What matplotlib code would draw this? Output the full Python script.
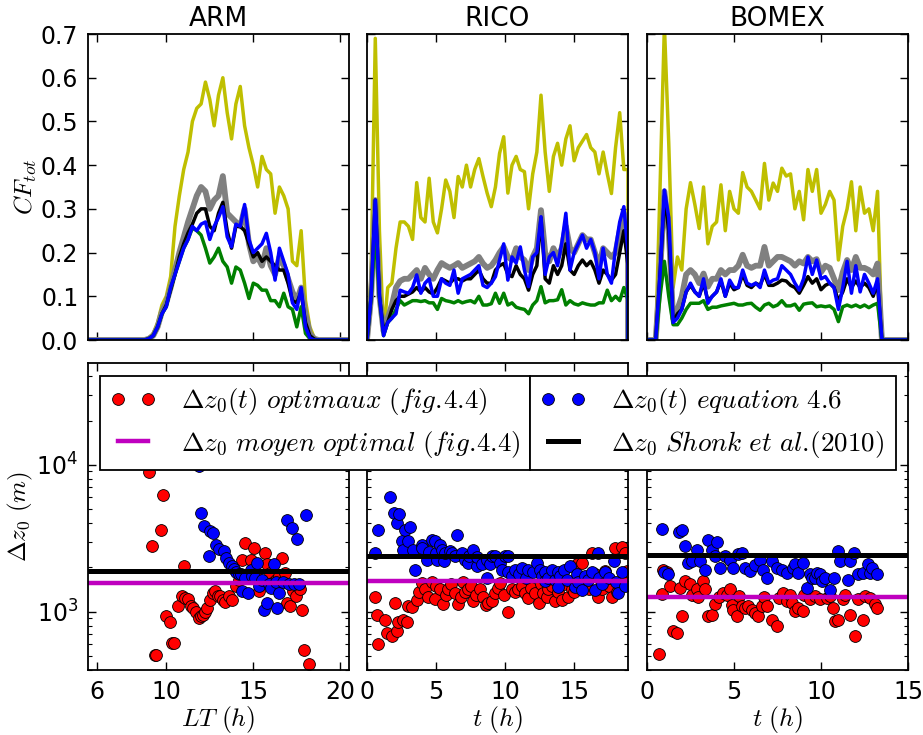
import matplotlib
matplotlib.use("Agg")
import matplotlib.pyplot as plt
import numpy as np

plt.rcParams["mathtext.fontset"] = "cm"
plt.rcParams["font.family"] = "DejaVu Sans"

# ---------------- top row: total cloud fraction ----------------
ARM_T = np.arange(8.5, 18.76, 0.25)
ARM_YELLOW = [0, 0, 0.005, 0.015, 0.04, 0.08, 0.10, 0.145, 0.26, 0.33,
              0.39, 0.43, 0.50, 0.53, 0.54, 0.59, 0.55, 0.49, 0.56, 0.60,
              0.52, 0.46, 0.54, 0.58, 0.49, 0.44, 0.40, 0.35, 0.42, 0.39,
              0.38, 0.29, 0.35, 0.33, 0.30, 0.18, 0.17, 0.25, 0.09, 0.03,
              0.005, 0]
ARM_GRAY = [0, 0, 0.003, 0.01, 0.03, 0.065, 0.085, 0.12, 0.16, 0.20,
            0.235, 0.27, 0.30, 0.33, 0.35, 0.34, 0.30, 0.32, 0.33, 0.375,
            0.29, 0.28, 0.27, 0.26, 0.30, 0.22, 0.18, 0.19, 0.17, 0.21,
            0.17, 0.15, 0.19, 0.17, 0.14, 0.11, 0.09, 0.12, 0.06, 0.015,
            0.003, 0]
ARM_BLACK = [0, 0, 0.003, 0.01, 0.03, 0.06, 0.08, 0.115, 0.15, 0.19,
             0.22, 0.245, 0.265, 0.29, 0.30, 0.30, 0.26, 0.25, 0.29, 0.315,
             0.25, 0.21, 0.26, 0.26, 0.25, 0.22, 0.19, 0.20, 0.18, 0.19,
             0.18, 0.17, 0.16, 0.16, 0.13, 0.09, 0.085, 0.11, 0.04, 0.01,
             0.002, 0]
ARM_BLUE = [0, 0, 0.003, 0.01, 0.03, 0.06, 0.076, 0.12, 0.15, 0.18,
            0.21, 0.23, 0.26, 0.25, 0.265, 0.27, 0.23, 0.26, 0.28, 0.305,
            0.236, 0.213, 0.265, 0.26, 0.31, 0.23, 0.20, 0.21, 0.22, 0.244,
            0.20, 0.137, 0.21, 0.18, 0.15, 0.085, 0.07, 0.12, 0.03, 0.005,
            0, 0]
ARM_GREEN = [0, 0, 0.003, 0.01, 0.03, 0.06, 0.076, 0.12, 0.15, 0.18,
             0.21, 0.23, 0.256, 0.25, 0.24, 0.21, 0.176, 0.19, 0.21, 0.18,
             0.167, 0.13, 0.167, 0.16, 0.13, 0.095, 0.13, 0.125, 0.114, 0.114,
             0.09, 0.09, 0.076, 0.107, 0.076, 0.07, 0.03, 0.076, 0.015, 0.003,
             0, 0]

RICO_T = np.arange(0, 18.91, 0.3)
RICO_YELLOW = [0, 0.15, 0.69, 0.25, 0.01, 0.12, 0.13, 0.21,
               0.27, 0.27, 0.26, 0.23, 0.36, 0.28, 0.27, 0.37,
               0.27, 0.245, 0.30, 0.366, 0.34, 0.28, 0.374, 0.35,
               0.40, 0.35, 0.39, 0.415, 0.374, 0.336, 0.305, 0.35,
               0.427, 0.465, 0.336, 0.40, 0.42, 0.39, 0.385, 0.30,
               0.38, 0.43, 0.56, 0.43, 0.34, 0.42, 0.45, 0.40,
               0.46, 0.49, 0.41, 0.44, 0.455, 0.47, 0.44, 0.43,
               0.38, 0.43, 0.38, 0.335, 0.44, 0.52, 0.39, 0.39]
RICO_GRAY = [0, 0.1, 0.32, 0.1, 0.02, 0.05, 0.08, 0.12,
             0.135, 0.14, 0.14, 0.15, 0.16, 0.14, 0.165, 0.15,
             0.14, 0.16, 0.176, 0.17, 0.165, 0.17, 0.176, 0.165,
             0.17, 0.175, 0.18, 0.19, 0.175, 0.165, 0.17, 0.183,
             0.20, 0.213, 0.19, 0.183, 0.21, 0.19, 0.183, 0.16,
             0.19, 0.21, 0.297, 0.20, 0.18, 0.21, 0.19, 0.21,
             0.26, 0.21, 0.20, 0.22, 0.24, 0.23, 0.23, 0.20,
             0.17, 0.21, 0.20, 0.19, 0.20, 0.25, 0.29, 0.22]
RICO_BLACK = [0, 0.1, 0.32, 0.1, 0.02, 0.04, 0.07, 0.09,
              0.10, 0.10, 0.105, 0.11, 0.12, 0.11, 0.12, 0.11,
              0.105, 0.12, 0.14, 0.135, 0.13, 0.14, 0.14, 0.135,
              0.14, 0.14, 0.15, 0.16, 0.14, 0.13, 0.13, 0.16,
              0.17, 0.175, 0.15, 0.145, 0.17, 0.15, 0.14, 0.114,
              0.15, 0.17, 0.28, 0.14, 0.13, 0.17, 0.15, 0.17,
              0.22, 0.16, 0.15, 0.17, 0.183, 0.17, 0.18, 0.16,
              0.13, 0.16, 0.15, 0.137, 0.15, 0.20, 0.25, 0.17]
RICO_BLUE = [0, 0.1, 0.32, 0.1, 0.01, 0.04, 0.05, 0.06,
             0.114, 0.11, 0.107, 0.12, 0.149, 0.107, 0.13, 0.14,
             0.10, 0.10, 0.14, 0.13, 0.125, 0.16, 0.107, 0.14,
             0.145, 0.15, 0.16, 0.17, 0.125, 0.12, 0.13, 0.145,
             0.183, 0.22, 0.137, 0.19, 0.176, 0.213, 0.16, 0.122,
             0.19, 0.20, 0.282, 0.15, 0.19, 0.20, 0.17, 0.22,
             0.29, 0.16, 0.20, 0.22, 0.24, 0.21, 0.23, 0.20,
             0.14, 0.21, 0.15, 0.13, 0.21, 0.27, 0.305, 0.20]
RICO_GREEN = [0, 0.1, 0.25, 0.1, 0.01, 0.04, 0.05, 0.07,
              0.09, 0.08, 0.085, 0.09, 0.09, 0.088, 0.09, 0.085,
              0.085, 0.07, 0.095, 0.09, 0.088, 0.085, 0.09, 0.085,
              0.088, 0.09, 0.085, 0.10, 0.08, 0.08, 0.083, 0.107,
              0.084, 0.107, 0.08, 0.085, 0.075, 0.072, 0.07, 0.06,
              0.08, 0.09, 0.122, 0.085, 0.09, 0.09, 0.092, 0.115,
              0.08, 0.09, 0.083, 0.08, 0.085, 0.082, 0.08, 0.08,
              0.085, 0.085, 0.114, 0.09, 0.1, 0.09, 0.12, 0.092]

BOMEX_T = np.arange(0, 15.01, 0.25)
BOMEX_YELLOW = [0, 0, 0, 0.35, 0.72, 0.45, 0.12, 0.19,
                0.16, 0.30, 0.36, 0.31, 0.255, 0.35, 0.22, 0.26,
                0.27, 0.355, 0.25, 0.34, 0.30, 0.29, 0.383, 0.35,
                0.34, 0.32, 0.30, 0.404, 0.32, 0.359, 0.34, 0.393,
                0.375, 0.38, 0.30, 0.34, 0.275, 0.39, 0.34, 0.39,
                0.29, 0.31, 0.34, 0.32, 0.183, 0.26, 0.30, 0.362,
                0.25, 0.35, 0.29, 0.30, 0.25, 0.34, 0, 0,
                0, 0, 0, 0, 0]
BOMEX_GRAY = [0, 0, 0, 0.15, 0.34, 0.25, 0.05, 0.07,
              0.10, 0.15, 0.16, 0.15, 0.13, 0.152, 0.122, 0.14,
              0.14, 0.16, 0.15, 0.16, 0.16, 0.17, 0.195, 0.17,
              0.165, 0.17, 0.17, 0.213, 0.17, 0.18, 0.19, 0.19,
              0.185, 0.18, 0.17, 0.18, 0.175, 0.19, 0.18, 0.185,
              0.155, 0.17, 0.165, 0.14, 0.114, 0.155, 0.183, 0.16,
              0.19, 0.165, 0.165, 0.16, 0.15, 0.175, 0, 0,
              0, 0, 0, 0, 0]
BOMEX_BLACK = [0, 0, 0, 0.15, 0.33, 0.25, 0.04, 0.06,
               0.07, 0.11, 0.125, 0.11, 0.10, 0.13, 0.09, 0.10,
               0.11, 0.135, 0.10, 0.13, 0.115, 0.12, 0.15, 0.125,
               0.12, 0.13, 0.125, 0.15, 0.125, 0.125, 0.13, 0.137,
               0.135, 0.125, 0.12, 0.107, 0.125, 0.145, 0.13, 0.14,
               0.115, 0.125, 0.13, 0.12, 0.09, 0.11, 0.14, 0.12,
               0.135, 0.12, 0.13, 0.12, 0.10, 0.13, 0, 0,
               0, 0, 0, 0, 0]
BOMEX_BLUE = [0, 0, 0, 0.15, 0.343, 0.28, 0.04, 0.05,
              0.07, 0.11, 0.13, 0.11, 0.10, 0.14, 0.084, 0.10,
              0.11, 0.14, 0.10, 0.137, 0.12, 0.12, 0.16, 0.13,
              0.125, 0.13, 0.12, 0.16, 0.13, 0.137, 0.14, 0.17,
              0.16, 0.15, 0.13, 0.114, 0.14, 0.19, 0.15, 0.183,
              0.14, 0.145, 0.13, 0.12, 0.07, 0.12, 0.18, 0.107,
              0.17, 0.11, 0.15, 0.13, 0.107, 0.14, 0, 0,
              0, 0, 0, 0, 0]
BOMEX_GREEN = [0, 0, 0, 0.10, 0.18, 0.10, 0.035, 0.035,
               0.05, 0.07, 0.084, 0.084, 0.084, 0.09, 0.07, 0.075,
               0.075, 0.078, 0.08, 0.082, 0.084, 0.08, 0.08, 0.083,
               0.084, 0.075, 0.068, 0.08, 0.084, 0.076, 0.08, 0.09,
               0.078, 0.078, 0.082, 0.068, 0.082, 0.084, 0.085, 0.076,
               0.078, 0.076, 0.078, 0.07, 0.042, 0.076, 0.08, 0.076,
               0.08, 0.075, 0.08, 0.074, 0.08, 0.084, 0, 0,
               0, 0, 0, 0, 0]

# ---------------- bottom row: delta z0 ----------------
ARM_OPT_T = [9.0, 9.2, 9.33, 9.42, 9.7, 9.82, 10.0, 10.19, 10.34, 10.42,
             10.69, 10.88, 11.0, 11.1, 11.25, 11.43, 11.55, 11.68, 11.87, 11.97,
             12.1, 12.2, 12.35, 12.54, 12.7, 12.8, 12.95, 13.1, 13.25, 13.4,
             13.6, 13.75, 14.0, 14.2, 14.36, 14.55, 14.7, 14.84, 15.03, 15.15,
             15.3, 15.5, 15.66, 15.8, 15.95, 16.1, 16.3, 16.5, 16.65, 16.8,
             16.94, 17.1, 17.3, 17.45, 17.6, 17.7, 17.8, 17.93, 18.18]
ARM_OPT_DZ = [8900, 2780, 510, 510, 3600, 6250, 940, 850, 612, 612,
              1090, 1270, 2030, 1240, 1220, 1090, 1060, 990, 910, 940,
              950, 990, 1060, 1200, 1340, 1370, 1280, 1280, 1200, 1170,
              1280, 1200, 1500, 1650, 2260, 2930, 1700, 2260, 2700, 1740,
              1370, 1560, 2510, 2100, 1820, 1570, 1650, 1750, 2320, 1820,
              1150, 1090, 1370, 1280, 1500, 1430, 1030, 551, 437]
ARM_EQ_T = [11.87, 11.97, 12.16, 12.44, 12.54, 12.7, 12.85, 13.0, 13.3, 13.45,
            13.6, 13.75, 13.9, 14.0, 14.17, 14.3, 14.36, 14.5, 14.7, 14.84,
            14.95, 15.1, 15.22, 15.35, 15.5, 15.6, 15.8, 15.9, 16.0, 16.17,
            16.3, 16.37, 16.5, 16.7, 16.94, 17.05, 17.22, 17.32, 17.5, 17.6,
            18.0]
ARM_EQ_DZ = [9800, 4690, 3800, 2380, 3520, 3450, 2860, 2670, 2570, 2320,
             2140, 2050, 1960, 1850, 1790, 1800, 1375, 1700, 1330, 1930,
             1750, 1700, 2140, 1490, 1650, 1030, 1145, 1550, 1450, 2100,
             1600, 1060, 1330, 1600, 4230, 1550, 3710, 1550, 3120, 1550,
             4570]

RICO_OPT_T = [0.58, 0.7, 0.82, 1.3, 1.42, 1.79, 2.03, 2.15, 2.27, 2.63,
              2.87, 2.99, 3.24, 3.6, 3.8, 3.96, 4.2, 4.4, 4.69, 4.93,
              5.0, 5.29, 5.53, 5.7, 5.89, 6.1, 6.38, 6.62, 6.8, 6.98,
              7.1, 7.34, 7.5, 7.71, 7.9, 8.19, 8.4, 8.6, 8.79, 9.03,
              9.28, 9.5, 9.64, 9.9, 10.19, 10.48, 10.7, 10.97, 11.2, 11.45,
              11.69, 11.9, 12.17, 12.42, 12.6, 12.78, 13.0, 13.14, 13.4, 13.62,
              13.8, 14.11, 14.3, 14.59, 14.83, 15.0, 15.19, 15.4, 15.56, 15.8,
              16.04, 16.28, 16.5, 16.76, 17.0, 17.2, 17.37, 17.5, 17.73, 17.97,
              18.1, 18.33, 18.45, 18.6, 18.7, 18.82]
RICO_OPT_DZ = [1260, 955, 597, 883, 720, 680, 1145, 735, 850, 880,
               850, 1090, 1070, 1200, 1350, 1570, 1430, 1250, 1600, 1220,
               1500, 1430, 1120, 1300, 1430, 1550, 1340, 1120, 1250, 1600,
               1350, 1430, 1500, 1180, 1300, 1430, 1250, 1100, 1150, 1180,
               1340, 1450, 1570, 1300, 1000, 1430, 1350, 1430, 1500, 1340,
               1240, 1450, 1340, 1150, 1550, 1340, 1250, 1430, 1500, 1180,
               1350, 1200, 1550, 1260, 1430, 1350, 2100, 1600, 2150, 1700,
               1430, 2510, 1800, 1260, 1430, 1900, 1620, 1500, 1260, 2700,
               1350, 1500, 2760, 1700, 2510, 1900]
RICO_EQ_T = [0.58, 0.82, 1.67, 1.98, 2.15, 2.34, 2.51, 2.63, 2.75, 2.99,
             3.12, 3.36, 3.48, 3.96, 4.0, 4.32, 4.5, 4.69, 4.93, 5.0,
             5.05, 5.29, 5.46, 5.6, 5.65, 6.0, 6.14, 6.38, 6.5, 6.86,
             7.1, 7.34, 7.4, 7.71, 7.95, 8.0, 8.31, 8.67, 8.67, 8.9,
             9.03, 9.28, 9.64, 9.76, 10.0, 10.24, 10.24, 10.5, 10.72, 11.0,
             11.21, 11.5, 11.69, 12.0, 12.3, 12.54, 12.7, 12.9, 12.9, 13.1,
             13.38, 13.6, 13.86, 13.86, 14.0, 14.23, 14.5, 14.71, 15.07, 15.19,
             15.3, 15.56, 15.8, 16.0, 16.28, 16.52, 16.76, 16.8, 17.0, 17.25,
             17.5, 17.85, 18.0, 18.21, 18.45, 18.7]
RICO_EQ_DZ = [2510, 3610, 6000, 4690, 4000, 4600, 3010, 2640, 3610, 3010,
              3790, 2640, 1930, 2860, 2700, 2260, 2550, 3090, 3010, 2500,
              2260, 2860, 2640, 2200, 2510, 2600, 2510, 2400, 3340, 2510,
              2260, 2150, 2400, 2640, 2030, 2350, 2100, 2260, 1700, 2100,
              2400, 2400, 2150, 1930, 2400, 2400, 1860, 1750, 1930, 1800,
              1970, 1700, 1930, 1850, 2150, 1930, 1750, 1860, 1620, 1700,
              1930, 1650, 1860, 1480, 1750, 1930, 1650, 2050, 1480, 1800,
              1600, 1410, 1750, 1650, 1860, 1410, 2510, 1700, 1550, 1860,
              1700, 2200, 1600, 1340, 1860, 1500]

BOMEX_OPT_T = [0.71, 0.84, 0.94, 1.13, 1.32, 1.51, 1.7, 1.9, 1.99, 2.18,
               2.47, 2.57, 2.85, 2.95, 3.2, 3.33, 3.52, 3.72, 3.91, 4.16,
               4.39, 4.6, 4.77, 4.87, 4.96, 5.15, 5.3, 5.44, 5.63, 5.82,
               6.02, 6.21, 6.4, 6.59, 6.7, 6.88, 7.17, 7.45, 7.6, 7.84,
               8.03, 8.2, 8.31, 8.51, 8.7, 8.98, 9.0, 9.37, 9.66, 9.94,
               10.33, 10.5, 10.71, 10.8, 10.99, 11.28, 11.4, 11.67, 11.95, 12.15,
               12.43, 12.5, 12.82, 13.1, 13.2]
BOMEX_OPT_DZ = [515, 1310, 1930, 1860, 1500, 735, 710, 1450, 930, 1620,
                1550, 1300, 1430, 1260, 1620, 1430, 930, 955, 1120, 1260,
                1340, 1300, 1430, 1100, 1030, 930, 1280, 1090, 1060, 1090,
                1030, 980, 930, 1090, 1250, 1090, 880, 795, 1240, 1340,
                1180, 1300, 1150, 1005, 1060, 1005, 1300, 1210, 1270, 1210,
                1240, 1280, 1060, 860, 880, 1210, 1300, 955, 680, 1210,
                870, 1270, 1240, 1120, 1060]
BOMEX_EQ_T = [0.84, 1.0, 1.2, 1.84, 1.99, 2.18, 2.37, 2.57, 2.85, 3.05,
              3.33, 3.52, 3.72, 3.91, 4.04, 4.2, 4.48, 4.77, 4.96, 5.25,
              5.44, 5.63, 5.92, 6.21, 6.5, 6.69, 6.88, 7.17, 7.45, 7.74,
              8.03, 8.41, 8.51, 8.7, 8.98, 9.17, 9.37, 9.46, 9.66, 9.75,
              9.94, 10.04, 10.23, 10.52, 10.75, 10.99, 11.09, 11.57, 11.67, 11.9,
              12.15, 12.43, 12.72, 12.82, 12.91, 13.2]
BOMEX_EQ_DZ = [3670, 1850, 1800, 3470, 3570, 2780, 2150, 2200, 2640, 2200,
               1910, 3090, 2640, 2380, 2960, 1980, 2380, 2260, 1980, 2450,
               2510, 1980, 1880, 2090, 2260, 1930, 1700, 2200, 1980, 1930,
               1830, 1980, 2120, 1830, 2150, 1450, 1790, 1700, 1700, 1830,
               1790, 1610, 1700, 1410, 1700, 2600, 2200, 1650, 2200, 2510,
               1790, 1830, 2120, 1830, 1980, 1790]

MEAN_OPT = [1575, 1610, 1260]      # magenta lines
SHONK = [1900, 2400, 2440]         # black lines

TITLES = ["ARM", "RICO", "BOMEX"]
XLIMS = [(5.5, 20.5), (0, 18.9), (0, 15)]
XTICKS = [[6, 10, 15, 20], [0, 5, 10, 15], [0, 5, 10, 15]]
XLABELS = [r"$LT\ (h)$", r"$t\ (h)$", r"$t\ (h)$"]

top_data = [
    (ARM_T, ARM_YELLOW, ARM_GRAY, ARM_BLACK, ARM_GREEN, ARM_BLUE),
    (RICO_T, RICO_YELLOW, RICO_GRAY, RICO_BLACK, RICO_GREEN, RICO_BLUE),
    (BOMEX_T, BOMEX_YELLOW, BOMEX_GRAY, BOMEX_BLACK, BOMEX_GREEN, BOMEX_BLUE),
]
bottom_data = [
    (ARM_OPT_T, ARM_OPT_DZ, ARM_EQ_T, ARM_EQ_DZ),
    (RICO_OPT_T, RICO_OPT_DZ, RICO_EQ_T, RICO_EQ_DZ),
    (BOMEX_OPT_T, BOMEX_OPT_DZ, BOMEX_EQ_T, BOMEX_EQ_DZ),
]

line_styles = [("#bfbf00", 2.5), ("#808080", 4.2), ("k", 2.5),
               ("#008000", 2.5), ("#0000ff", 2.5)]

W, H = 923, 735
fig = plt.figure(figsize=(W / 100, H / 100), dpi=100)

lefts = [88, 367, 647]
width = 261


def style_axis(ax):
    for sp in ax.spines.values():
        sp.set_linewidth(1.3)
    ax.tick_params(which="both", direction="in", top=True, right=True,
                   labelsize=17, pad=7)
    ax.tick_params(which="major", length=6, width=1)
    ax.tick_params(which="minor", length=3, width=0.8)


handles = {}
for i in range(3):
    # top panel
    ax = fig.add_axes([lefts[i] / W, 1 - 340 / H, width / W, 306 / H])
    t = top_data[i][0]
    x0, x1 = XLIMS[i]
    for vals, (col, lw) in zip(top_data[i][1:], line_styles):
        ax.plot(np.r_[x0, t, x1], np.r_[0, vals, 0], color=col, lw=lw)
    ax.set_xlim(x0, x1)
    ax.set_ylim(0, 0.7)
    ax.set_xticks(XTICKS[i])
    ax.set_yticks(np.arange(0, 0.71, 0.1))
    ax.set_xticklabels([])
    ax.set_title(TITLES[i], fontsize=19, pad=6)
    style_axis(ax)
    if i == 0:
        ax.set_yticklabels(["%.1f" % v for v in np.arange(0, 0.71, 0.1)])
        ax.set_ylabel(r"$CF_{tot}$", fontsize=18, labelpad=1)
    else:
        ax.set_yticklabels([])

    # bottom panel
    bx = fig.add_axes([lefts[i] / W, 1 - 670 / H, width / W, 307 / H])
    ot, odz, et, edz = bottom_data[i]
    h_red, = bx.plot(ot, odz, "o", color="#ff0000", mec="k", mew=0.6, ms=8.5)
    h_blue, = bx.plot(et, edz, "o", color="#0000ff", mec="k", mew=0.6, ms=8.5)
    h_mag = bx.axhline(MEAN_OPT[i], color="#bf00bf", lw=3.2)
    h_blk = bx.axhline(SHONK[i], color="k", lw=3.6)
    bx.set_yscale("log")
    bx.set_xlim(x0, x1)
    bx.set_ylim(400, 4.93e4)
    bx.set_xticks(XTICKS[i])
    bx.set_xlabel(XLABELS[i], fontsize=18.5, labelpad=0)
    style_axis(bx)
    if i == 0:
        bx.set_ylabel(r"$\Delta z_0\ (m)$", fontsize=18, labelpad=1)
        handles = dict(red=h_red, blue=h_blue, mag=h_mag, blk=h_blk)
    else:
        bx.set_yticklabels([], minor=False)
        bx.set_yticklabels([], minor=True)

leg_kw = dict(loc="upper left", mode="expand", fontsize=19.5, numpoints=2,
              fancybox=False, framealpha=1, edgecolor="k", borderaxespad=0,
              handlelength=1.7, handletextpad=0.9, labelspacing=0.42,
              borderpad=0.38)
leg1 = fig.legend([handles["red"], handles["mag"]],
                  [r"$\Delta z_0(t)\ optimaux\ (fig.\!4.4)$",
                   r"$\Delta z_0\ moyen\ optimal\ (fig.\!4.4)$"],
                  bbox_to_anchor=(100 / W, 1 - 467 / H, 430 / W, 91 / H), **leg_kw)
leg1.get_frame().set_linewidth(1.3)
leg2 = fig.legend([handles["blue"], handles["blk"]],
                  [r"$\Delta z_0(t)\ equation\ 4.6$",
                   r"$\Delta z_0\ Shonk\ et\ al.\!(2010)$"],
                  bbox_to_anchor=(530 / W, 1 - 467 / H, 366 / W, 91 / H), **leg_kw)
leg2.get_frame().set_linewidth(1.3)

fig.savefig("out.png", dpi=100)
